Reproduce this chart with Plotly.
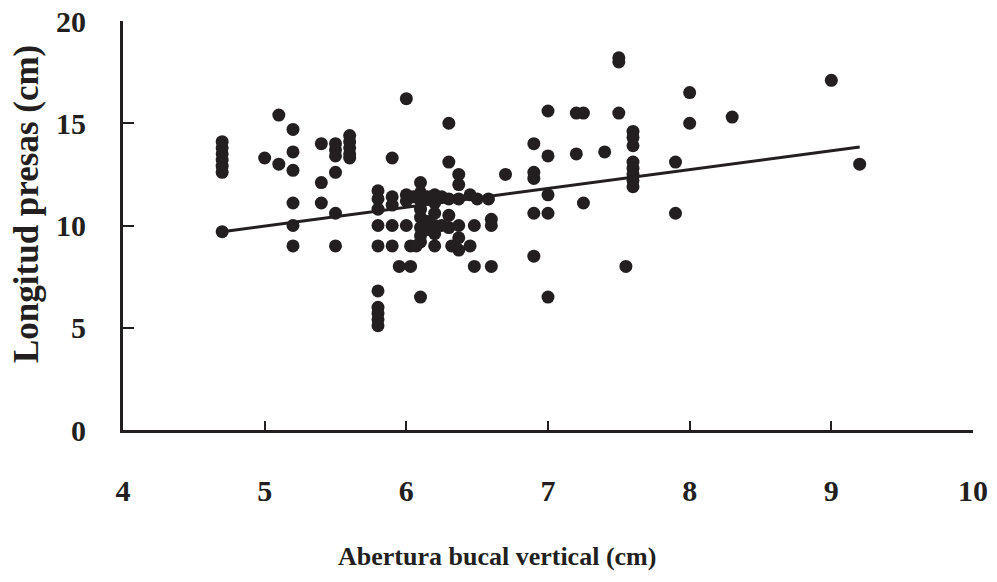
import plotly.graph_objects as go

# Abertura bucal vertical (cm)
abertura = [
    4.7, 4.7, 4.7, 4.7, 4.7, 4.7, 4.7,
    5.0, 5.1, 5.1, 5.2, 5.2, 5.2, 5.2, 5.2, 5.2,
    5.4, 5.4, 5.4, 5.5, 5.5, 5.5, 5.5, 5.5, 5.5,
    5.6, 5.6, 5.6, 5.6, 5.6,
    5.8, 5.8, 5.8, 5.8, 5.8, 5.8, 5.8, 5.8, 5.8, 5.8,
    5.9, 5.9, 5.9, 5.9, 5.9, 5.95,
    6.0, 6.0, 6.0, 6.0, 6.03, 6.03,
    6.05, 6.1, 6.1, 6.1, 6.1, 6.1, 6.1, 6.1, 6.1, 6.1, 6.07,
    6.15, 6.15, 6.15, 6.2, 6.2, 6.2, 6.2, 6.2, 6.2,
    6.25, 6.25, 6.3, 6.3, 6.3, 6.3, 6.3,
    6.37, 6.37, 6.37, 6.37, 6.37, 6.32, 6.37,
    6.45, 6.45, 6.48, 6.48, 6.5, 6.58, 6.6, 6.6, 6.6,
    6.7,
    6.9, 6.9, 6.9, 6.9, 6.9,
    7.0, 7.0, 7.0, 7.0, 7.0,
    7.2, 7.25, 7.2, 7.25,
    7.4,
    7.5, 7.5, 7.5,
    7.55,
    7.6, 7.6, 7.6, 7.6, 7.6, 7.6, 7.6, 7.6,
    7.9, 7.9,
    8.0, 8.0, 8.3,
    9.0, 9.2,
]

# Longitud presas (cm)
longitud = [
    14.1, 13.8, 13.5, 13.2, 12.9, 12.6, 9.7,
    13.3, 15.4, 13.0, 14.7, 13.6, 12.7, 11.1, 10.0, 9.0,
    14.0, 12.1, 11.1, 14.0, 13.7, 13.4, 12.6, 10.6, 9.0,
    14.4, 14.1, 13.8, 13.5, 13.3,
    11.7, 11.3, 10.8, 10.0, 9.0, 6.8, 6.0, 5.7, 5.4, 5.1,
    13.3, 11.4, 11.0, 10.0, 9.0, 8.0,
    16.2, 11.5, 11.2, 10.0, 9.0, 8.0,
    11.4, 12.1, 11.6, 11.2, 10.8, 10.4, 9.9, 9.5, 9.2, 6.5, 9.0,
    11.4, 10.2, 9.8, 11.5, 11.1, 10.6, 10.0, 9.6, 9.0,
    11.4, 10.0, 15.0, 13.1, 11.3, 10.5, 9.9,
    12.5, 12.0, 11.3, 10.0, 9.4, 9.0, 8.8,
    11.5, 9.0, 10.0, 8.0, 11.3, 11.3, 10.3, 10.0, 8.0,
    12.5,
    14.0, 12.6, 12.3, 10.6, 8.5,
    15.6, 13.4, 11.5, 10.6, 6.5,
    15.5, 15.5, 13.5, 11.1,
    13.6,
    18.0, 18.2, 15.5,
    8.0,
    14.6, 14.3, 13.9, 13.1, 12.8, 12.5, 12.2, 11.9,
    13.1, 10.6,
    16.5, 15.0, 15.3,
    17.1, 13.0,
]

# Linear trend
trend_slope = 0.922
trend_intercept = 5.36

x_ticks = [4, 5, 6, 7, 8, 9, 10]
y_ticks = [0, 5, 10, 15, 20]
x_title = "Abertura bucal vertical (cm)"
y_title = "Longitud presas (cm)"

ink = "#231f20"
font_family = "Liberation Serif, Times New Roman, serif"

x_line = [min(abertura), max(abertura)]
y_line = [trend_slope * v + trend_intercept for v in x_line]

fig = go.Figure()
fig.add_trace(go.Scatter(
    x=abertura, y=longitud, mode="markers",
    marker=dict(size=13, color=ink, line=dict(width=0)),
    showlegend=False, hoverinfo="skip",
))
fig.add_trace(go.Scatter(
    x=x_line, y=y_line, mode="lines",
    line=dict(color=ink, width=3),
    showlegend=False, hoverinfo="skip",
))

fig.update_layout(
    width=997, height=582,
    margin=dict(l=123, r=24, t=21, b=152),
    plot_bgcolor="white", paper_bgcolor="white",
    font=dict(family=font_family, color=ink, weight="bold"),
)
fig.update_xaxes(
    range=[4, 10], tickvals=x_ticks, ticktext=[str(v) for v in x_ticks],
    showgrid=False, zeroline=False, automargin=False,
    showline=True, linecolor=ink, linewidth=3,
    ticks="inside", ticklen=9, tickwidth=2, tickcolor=ink,
    tickfont=dict(size=30, family=font_family, color=ink, weight="bold"),
    ticklabelstandoff=32, ticklabeloverflow="allow",
)
fig.update_yaxes(
    range=[0, 20], tickvals=y_ticks, ticktext=[str(v) for v in y_ticks],
    showgrid=False, zeroline=False, automargin=False,
    showline=True, linecolor=ink, linewidth=3,
    ticks="inside", ticklen=11, tickwidth=2, tickcolor=ink,
    tickfont=dict(size=30, family=font_family, color=ink, weight="bold"),
    ticklabelstandoff=28, ticklabeloverflow="allow",
)
fig.add_annotation(
    text=x_title, xref="paper", yref="paper",
    x=(497 - 123) / 850, y=-(556 - 430) / 409,
    xanchor="center", yanchor="middle", showarrow=False,
    font=dict(size=26, family=font_family, color=ink, weight="bold"),
)
fig.add_annotation(
    text=y_title, xref="paper", yref="paper", textangle=-90,
    x=-(123 - 26) / 850, y=(430 - 204) / 409,
    xanchor="center", yanchor="middle", showarrow=False,
    font=dict(size=35, family=font_family, color=ink, weight="bold"),
)

fig.write_html(
    "out.html",
    config={"displayModeBar": False},
    post_script="document.body.style.margin='0';document.body.style.overflow='hidden';",
)
